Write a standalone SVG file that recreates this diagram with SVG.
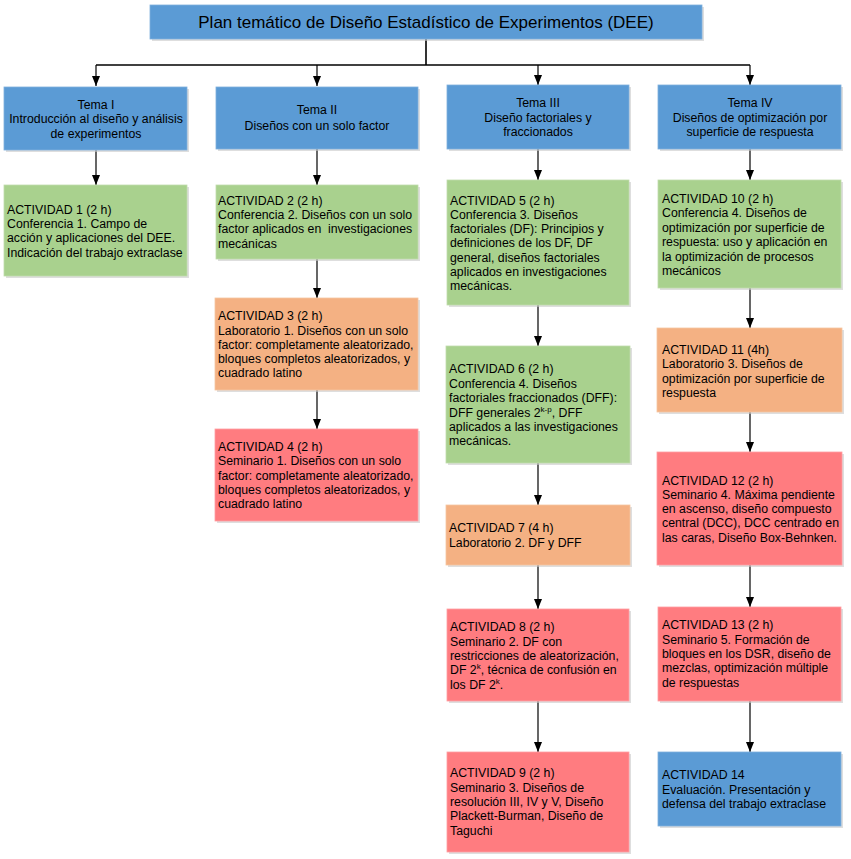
<svg xmlns="http://www.w3.org/2000/svg" width="851" height="859" viewBox="0 0 851 859">
<style>
.sh{fill:#c8c8c8;opacity:0.6}
.blue{fill:#5b9bd5;stroke:#7fb0dc;stroke-width:0.8}
.green{fill:#a9d18e;stroke:#c0dcad;stroke-width:0.8}
.orange{fill:#f4b183;stroke:#f6c6a2;stroke-width:0.8}
.red{fill:#ff7c80;stroke:#ff9fa2;stroke-width:0.8}
text{font-family:"Liberation Sans",Arial,sans-serif;font-size:12.3px;fill:#000}
.c{text-anchor:middle}
.title{font-size:17px}
.sup{font-size:8px}
.ln{stroke:#000;stroke-width:1.2;fill:none}
.lnb{stroke:#000;stroke-width:1.6;fill:none}
</style>
<defs>
<marker id="ar" markerWidth="10" markerHeight="8" refX="10" refY="4" orient="auto" markerUnits="userSpaceOnUse">
<path d="M0,0 L10,4 L0,8 z" fill="#000"/>
</marker>
</defs>
<g id="connectors">
<path class="lnb" d="M426,39 V65"/>
<path class="lnb" d="M96,65 H750"/>
<path class="ln" d="M96,65 V86" marker-end="url(#ar)"/>
<path class="ln" d="M317,65 V86" marker-end="url(#ar)"/>
<path class="ln" d="M538,65 V85" marker-end="url(#ar)"/>
<path class="ln" d="M750,65 V85" marker-end="url(#ar)"/>
<path class="ln" d="M96,150 V185" marker-end="url(#ar)"/>
<path class="ln" d="M317,149 V185" marker-end="url(#ar)"/>
<path class="ln" d="M538,149 V180" marker-end="url(#ar)"/>
<path class="ln" d="M750,149 V180" marker-end="url(#ar)"/>
<path class="ln" d="M317,259 V298" marker-end="url(#ar)"/>
<path class="ln" d="M317,390 V429" marker-end="url(#ar)"/>
<path class="ln" d="M538,305 V346" marker-end="url(#ar)"/>
<path class="ln" d="M538,463 V505" marker-end="url(#ar)"/>
<path class="ln" d="M538,565 V609" marker-end="url(#ar)"/>
<path class="ln" d="M538,701 V752" marker-end="url(#ar)"/>
<path class="ln" d="M750,288 V328" marker-end="url(#ar)"/>
<path class="ln" d="M750,412 V452" marker-end="url(#ar)"/>
<path class="ln" d="M750,565 V607" marker-end="url(#ar)"/>
<path class="ln" d="M750,701 V752" marker-end="url(#ar)"/>
</g>
<g id="title">
<rect class="sh" x="152" y="7" width="552" height="34"/>
<rect class="blue" x="150" y="5" width="552" height="34"/>
<text class="title c" x="426" y="28">Plan temático de Diseño Estadístico de Experimentos (DEE)</text>
</g>
<g id="tema1">
<rect class="sh" x="6" y="89" width="183" height="63"/>
<rect class="blue" x="4" y="87" width="183" height="63"/>
<text class="c" x="96" y="109">Tema I</text>
<text class="c" x="96" y="123">Introducción al diseño y análisis</text>
<text class="c" x="96" y="138">de experimentos</text>
</g>
<g id="tema2">
<rect class="sh" x="218" y="89" width="202" height="62"/>
<rect class="blue" x="216" y="87" width="202" height="62"/>
<text class="c" x="317" y="114">Tema II</text>
<text class="c" x="317" y="130">Diseños con un solo factor</text>
</g>
<g id="tema3">
<rect class="sh" x="449" y="87" width="182" height="64"/>
<rect class="blue" x="447" y="85" width="182" height="64"/>
<text class="c" x="538" y="107">Tema III</text>
<text class="c" x="538" y="122">Diseño factoriales y</text>
<text class="c" x="538" y="136">fraccionados</text>
</g>
<g id="tema4">
<rect class="sh" x="660" y="87" width="183" height="64"/>
<rect class="blue" x="658" y="85" width="183" height="64"/>
<text class="c" x="750" y="107">Tema IV</text>
<text class="c" x="750" y="122">Diseños de optimización por</text>
<text class="c" x="750" y="136">superficie de respuesta</text>
</g>
<g id="act1">
<rect class="sh" x="6" y="187" width="183" height="91"/>
<rect class="green" x="4" y="185" width="183" height="91"/>
<text x="7" y="214">ACTIVIDAD 1 (2 h)</text>
<text x="7" y="228">Conferencia 1. Campo de</text>
<text x="7" y="242">acción y aplicaciones del DEE.</text>
<text x="7" y="257">Indicación del trabajo extraclase</text>
</g>
<g id="act2">
<rect class="sh" x="218" y="187" width="202" height="74"/>
<rect class="green" x="216" y="185" width="202" height="74"/>
<text x="218" y="205">ACTIVIDAD 2 (2 h)</text>
<text x="218" y="219">Conferencia 2. Diseños con un solo</text>
<text x="218" y="233">factor aplicados en&#160; investigaciones</text>
<text x="218" y="248">mecánicas</text>
</g>
<g id="act3">
<rect class="sh" x="217" y="300" width="203" height="92"/>
<rect class="orange" x="215" y="298" width="203" height="92"/>
<text x="218" y="320">ACTIVIDAD 3 (2 h)</text>
<text x="218" y="335">Laboratorio 1. Diseños con un solo</text>
<text x="218" y="349">factor: completamente aleatorizado,</text>
<text x="218" y="363">bloques completos aleatorizados, y</text>
<text x="218" y="377">cuadrado latino</text>
</g>
<g id="act4">
<rect class="sh" x="217" y="431" width="203" height="92"/>
<rect class="red" x="215" y="429" width="203" height="92"/>
<text x="218" y="451">ACTIVIDAD 4 (2 h)</text>
<text x="218" y="465">Seminario 1. Diseños con un solo</text>
<text x="218" y="480">factor: completamente aleatorizado,</text>
<text x="218" y="494">bloques completos aleatorizados, y</text>
<text x="218" y="508">cuadrado latino</text>
</g>
<g id="act5">
<rect class="sh" x="449" y="182" width="182" height="125"/>
<rect class="green" x="447" y="180" width="182" height="125"/>
<text x="450" y="205">ACTIVIDAD 5 (2 h)</text>
<text x="450" y="219">Conferencia 3. Diseños</text>
<text x="450" y="233">factoriales (DF): Principios y</text>
<text x="450" y="247">definiciones de los DF, DF</text>
<text x="450" y="262">general, diseños factoriales</text>
<text x="450" y="276">aplicados en investigaciones</text>
<text x="450" y="290">mecánicas.</text>
</g>
<g id="act6">
<rect class="sh" x="448" y="348" width="184" height="117"/>
<rect class="green" x="446" y="346" width="184" height="117"/>
<text x="449" y="373">ACTIVIDAD 6 (2 h)</text>
<text x="449" y="388">Conferencia 4. Diseños</text>
<text x="449" y="402">factoriales fraccionados (DFF):</text>
<text x="449" y="417">DFF generales 2<tspan class="sup" dy="-5">k-p</tspan><tspan dy="5">, DFF</tspan></text>
<text x="449" y="431">aplicados a las investigaciones</text>
<text x="449" y="445">mecánicas.</text>
</g>
<g id="act7">
<rect class="sh" x="448" y="507" width="184" height="60"/>
<rect class="orange" x="446" y="505" width="184" height="60"/>
<text x="449" y="532">ACTIVIDAD 7 (4 h)</text>
<text x="449" y="547">Laboratorio 2. DF y DFF</text>
</g>
<g id="act8">
<rect class="sh" x="449" y="611" width="182" height="92"/>
<rect class="red" x="447" y="609" width="182" height="92"/>
<text x="450" y="631">ACTIVIDAD 8 (2 h)</text>
<text x="450" y="646">Seminario 2. DF con</text>
<text x="450" y="660">restricciones de aleatorización,</text>
<text x="450" y="674">DF 2<tspan class="sup" dy="-5">k</tspan><tspan dy="5">, técnica de confusión en</tspan></text>
<text x="450" y="689">los DF 2<tspan class="sup" dy="-5">k</tspan><tspan dy="5">.</tspan></text>
</g>
<g id="act9">
<rect class="sh" x="449" y="754" width="182" height="100"/>
<rect class="red" x="447" y="752" width="182" height="100"/>
<text x="450" y="777">ACTIVIDAD 9 (2 h)</text>
<text x="450" y="792">Seminario 3. Diseños de</text>
<text x="450" y="806">resolución III, IV y V, Diseño</text>
<text x="450" y="820">Plackett-Burman, Diseño de</text>
<text x="450" y="835">Taguchi</text>
</g>
<g id="act10">
<rect class="sh" x="660" y="182" width="183" height="108"/>
<rect class="green" x="658" y="180" width="183" height="108"/>
<text x="662" y="203">ACTIVIDAD 10 (2 h)</text>
<text x="662" y="217">Conferencia 4. Diseños de</text>
<text x="662" y="232">optimización por superficie de</text>
<text x="662" y="246">respuesta: uso y aplicación en</text>
<text x="662" y="261">la optimización de procesos</text>
<text x="662" y="275">mecánicos</text>
</g>
<g id="act11">
<rect class="sh" x="659" y="330" width="185" height="84"/>
<rect class="orange" x="657" y="328" width="185" height="84"/>
<text x="662" y="354">ACTIVIDAD 11 (4h)</text>
<text x="662" y="368">Laboratorio 3. Diseños de</text>
<text x="662" y="383">optimización por superficie de</text>
<text x="662" y="397">respuesta</text>
</g>
<g id="act12">
<rect class="sh" x="659" y="454" width="185" height="113"/>
<rect class="red" x="657" y="452" width="185" height="113"/>
<text x="662" y="485">ACTIVIDAD 12 (2 h)</text>
<text x="662" y="499">Seminario 4. Máxima pendiente</text>
<text x="662" y="513">en ascenso, diseño compuesto</text>
<text x="662" y="527">central (DCC), DCC centrado en</text>
<text x="662" y="542">las caras, Diseño Box-Behnken.</text>
</g>
<g id="act13">
<rect class="sh" x="660" y="609" width="183" height="94"/>
<rect class="red" x="658" y="607" width="183" height="94"/>
<text x="662" y="629">ACTIVIDAD 13 (2 h)</text>
<text x="662" y="644">Seminario 5. Formación de</text>
<text x="662" y="658">bloques en los DSR, diseño de</text>
<text x="662" y="672">mezclas, optimización múltiple</text>
<text x="662" y="687">de respuestas</text>
</g>
<g id="act14">
<rect class="sh" x="660" y="754" width="183" height="74"/>
<rect class="blue" x="658" y="752" width="183" height="74"/>
<text x="662" y="779">ACTIVIDAD 14</text>
<text x="662" y="794">Evaluación. Presentación y</text>
<text x="662" y="808">defensa del trabajo extraclase</text>
</g>
</svg>
